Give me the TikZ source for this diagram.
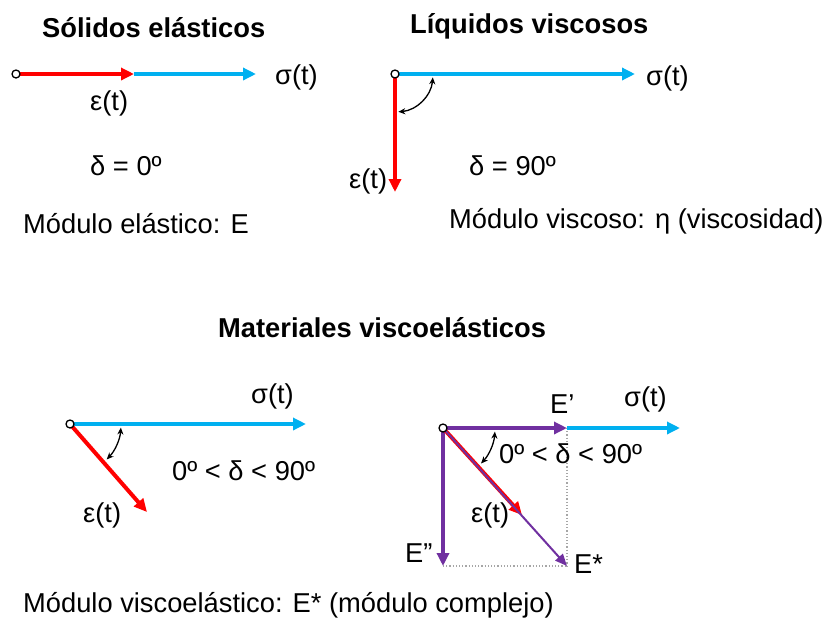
\documentclass[tikz,border=0pt]{standalone}
\usepackage{fontspec}
\setmainfont{Liberation Sans}
\usetikzlibrary{arrows.meta}
\definecolor{cblue}{RGB}{0,176,240}
\definecolor{cred}{RGB}{255,0,0}
\definecolor{cpurple}{RGB}{112,48,160}
\begin{document}
\begin{tikzpicture}[x=1pt,y=-1pt,
  txt/.style={inner sep=0pt,anchor=base west,font=\fontsize{27.3}{32}\selectfont},
  ttl/.style={inner sep=0pt,anchor=base west,font=\fontsize{27.3}{32}\selectfont\bfseries},
  vec/.style={line width=4pt,-{Triangle[length=13pt,width=12pt]}},
  thinvec/.style={line width=2pt,-{Triangle[length=12pt,width=10pt]}},
  ang/.style={line width=1.3pt,{Stealth[length=7pt,width=6pt]}-{Stealth[length=7pt,width=6pt]}},
  dots/.style={gray!70,line width=1.2pt,dotted},
  orig/.style={circle,draw=black,fill=white,line width=1.3pt,inner sep=0pt,minimum size=8pt}]
\useasboundingbox (0,0) rectangle (822,619);
% Titles
\node[ttl] (t1) at (42,37) {Sólidos elásticos};
\node[ttl] (t2) at (410,33) {Líquidos viscosos};
\node[ttl] (t3) at (218,337) {Materiales viscoelásticos};

% Panel 1
\coordinate (o1) at (16,74);
\coordinate (e1) at (134,74);
\coordinate (s1) at (256,74);
\draw[vec,cblue] (e1) -- (s1);
\draw[vec,cred] (o1) -- (e1);
\node[orig] (c1) at (o1) {};
\node[txt] (ls1) at (275,84) {σ(t)};
\node[txt] (le1) at (90,110) {ε(t)};
\node[txt] (d1) at (90,175) {δ = 0º};
\node[txt] (m1) at (23,233) {Módulo elástico: E};

% Panel 2
\coordinate (o2) at (395,74);
\coordinate (s2) at (635,74);
\coordinate (e2) at (395,192);
\draw[vec,cblue] (o2) -- (s2);
\draw[vec,cred] (o2) -- (e2);
\draw[ang] ([shift={(5:38)}]o2) arc[start angle=5,end angle=85,radius=38];
\node[orig] (c2) at (o2) {};
\node[txt] (ls2) at (646,85) {σ(t)};
\node[txt] (le2) at (349,188) {ε(t)};
\node[txt] (d2) at (469,175) {δ = 90º};
\node[txt] (m2) at (449,228) {Módulo viscoso: η (viscosidad)};

% Panel 3
\coordinate (o3) at (70,424);
\coordinate (s3) at (306,424);
\coordinate (e3) at (147,512);
\draw[vec,cblue] (o3) -- (s3);
\draw[vec,cred] (o3) -- (e3);
\draw[ang] ([shift={(4:51)}]o3) arc[start angle=4,end angle=44,radius=51];
\node[orig] (c3) at (o3) {};
\node[txt] (ls3) at (251,403) {σ(t)};
\node[txt] (d3) at (172,480) {0º < δ < 90º};
\node[txt] (le3) at (83,522) {ε(t)};

% Panel 4
\coordinate (o4) at (443,428);
\coordinate (ep) at (567,428);
\coordinate (s4) at (680,428);
\coordinate (epp) at (443,566);
\coordinate (es) at (567,566);
\coordinate (e4) at (522,515);
\draw[dots] (ep) -- (es);
\draw[dots] (epp) -- (es);
\draw[vec,cblue] (ep) -- (s4);
\draw[vec,cpurple] (o4) -- (ep);
\draw[vec,cpurple] (o4) -- (epp);
\draw[vec,cred] (o4) -- (e4);
\draw[thinvec,cpurple] (o4) -- (es);
\draw[ang] ([shift={(4:52)}]o4) arc[start angle=4,end angle=43,radius=52];
\node[orig] (c4) at (o4) {};
\node[txt] (lep) at (550,413) {E’};
\node[txt] (ls4) at (624,406) {σ(t)};
\node[txt] (d4) at (499,463) {0º < δ < 90º};
\node[txt] (le4) at (471,522) {ε(t)};
\node[txt] (lepp) at (405,562) {E”};
\node[txt] (les) at (574,573) {E*};
\node[txt] (m3) at (23,612) {Módulo viscoelástico: E* (módulo complejo)};
\end{tikzpicture}
\end{document}
